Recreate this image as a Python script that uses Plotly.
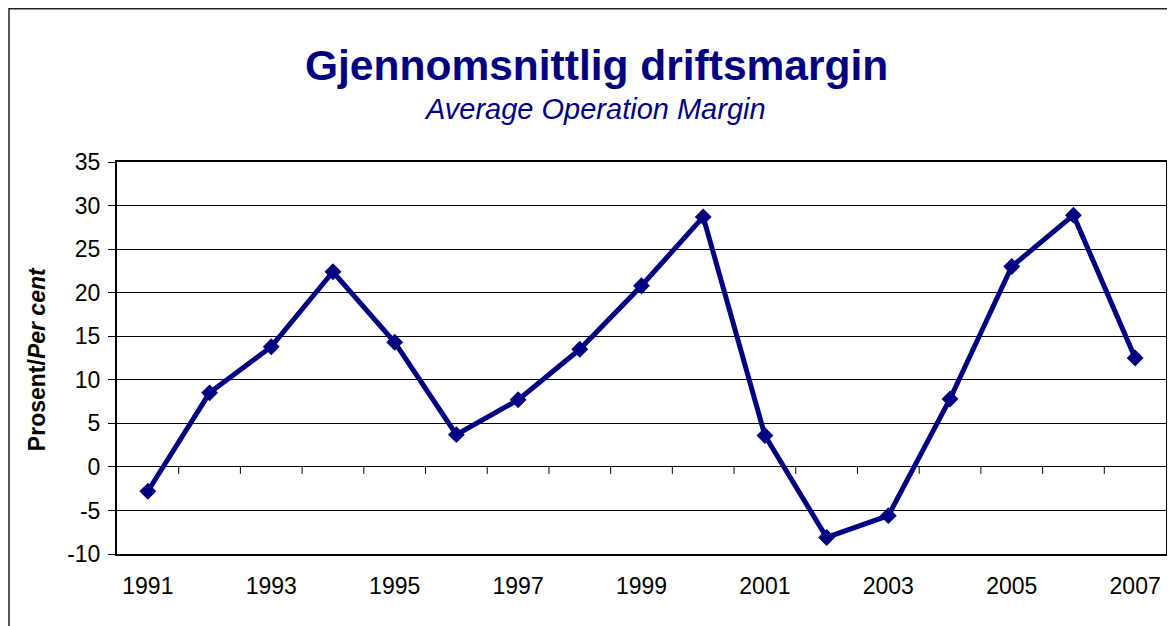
import plotly.graph_objects as go

years = [1991, 1992, 1993, 1994, 1995, 1996, 1997, 1998, 1999, 2000,
         2001, 2002, 2003, 2004, 2005, 2006, 2007]
margin = [-2.8, 8.5, 13.8, 22.4, 14.3, 3.7, 7.7, 13.5, 20.8, 28.7,
          3.6, -8.1, -5.6, 7.8, 23.0, 28.9, 12.5]
tick_years = [1991, 1993, 1995, 1997, 1999, 2001, 2003, 2005, 2007]
y_ticks = [-10, -5, 0, 5, 10, 15, 20, 25, 30, 35]

NAVY = "#000080"
OFF = 8  # page body margin offset
W, H = 1175 - OFF, 626 - OFF
L, T = 117 - OFF, 162 - OFF
R = W - (1168 - OFF)
B = H - (554 - OFF)
pw, ph = W - L - R, H - T - B

def px_x(p):
    return (p - OFF - L) / pw

def px_y(p):
    return (H - B - (p - OFF)) / ph

fig = go.Figure()
fig.add_trace(go.Scatter(
    x=years, y=margin, mode="lines+markers",
    line=dict(color=NAVY, width=5),
    marker=dict(symbol="diamond", size=13, color=NAVY),
    showlegend=False, cliponaxis=False,
))

shapes = []
# category boundary ticks along the zero line
for yr in years[:-1]:
    shapes.append(dict(type="line", xref="x", yref="y",
                       x0=yr + 0.5, x1=yr + 0.5, y0=0, y1=-0.8,
                       line=dict(color="black", width=1), layer="below"))
# outer chart border
shapes.append(dict(type="rect", xref="paper", yref="paper",
                   x0=px_x(OFF + 0.8), x1=px_x(1250), y0=px_y(700), y1=px_y(OFF + 0.8),
                   line=dict(color="#222", width=1.5)))

fig.update_layout(
    width=W, height=H,
    margin=dict(l=L, r=R, t=T, b=B),
    paper_bgcolor="white", plot_bgcolor="white",
    font=dict(family="Liberation Sans, Arial, sans-serif", color="black"),
    shapes=shapes,
    annotations=[
        dict(text="<b>Gjennomsnittlig driftsmargin</b>", xref="paper", yref="paper",
             x=px_x(597), y=px_y(65), showarrow=False, xanchor="center", yanchor="middle",
             font=dict(size=42.5, color=NAVY)),
        dict(text="<i>Average Operation Margin</i>", xref="paper", yref="paper",
             x=px_x(596), y=px_y(109), showarrow=False, xanchor="center", yanchor="middle",
             font=dict(size=29, color=NAVY)),
        dict(text="<b>Prosent/<i>Per cent</i></b>", xref="paper", yref="paper",
             x=px_x(37), y=px_y(359), showarrow=False, textangle=-90,
             xanchor="center", yanchor="middle",
             font=dict(size=23, color="black")),
    ],
)

fig.update_xaxes(
    range=[years[0] - 0.5, years[-1] + 0.5],
    tickvals=tick_years, ticktext=[str(y) for y in tick_years],
    ticks="outside", ticklen=0, tickcolor="white",
    ticklabelstandoff=10,
    showgrid=False, zeroline=False,
    showline=True, mirror=True, linecolor="black", linewidth=2,
    tickfont=dict(size=23, color="black"),
)
fig.update_yaxes(
    range=[-10, 35], tickvals=y_ticks, ticktext=[str(v) for v in y_ticks],
    ticks="outside", ticklen=7, tickcolor="black",
    ticklabelstandoff=3,
    showgrid=True, gridcolor="black", gridwidth=1,
    zeroline=False,
    showline=True, mirror=True, linecolor="black", linewidth=2,
    tickfont=dict(size=23, color="black"),
)

fig.write_html("out.html")
